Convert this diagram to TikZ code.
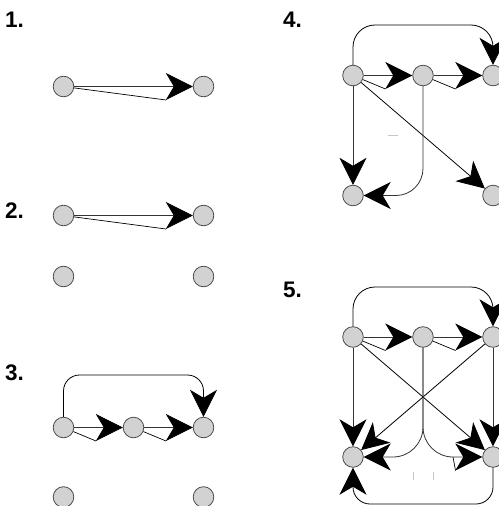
\documentclass[tikz,border=0pt]{standalone}
\usepackage{fontspec}
\setmainfont{Liberation Sans}
\usetikzlibrary{arrows.meta,calc}

\tikzset{
  vertex/.style={circle, minimum size=20.6pt, inner sep=0pt, fill=gray!35,
                 draw=black!70, line width=0.8pt},
  arr/.style={-{Stealth[length=27pt, width=27pt, inset=8pt, color=black]},
              draw=black!80, line width=0.8pt},
  tail/.style={draw=black, line width=0.7pt},
  faint/.style={draw=gray!45, line width=0.8pt},
  num/.style={font=\bfseries\fontsize{22.5}{22.5}\selectfont, anchor=base west,
              inner sep=0pt}
}

% thin line from #1 to the right-hand barb of the arrow tip that ends on #2
\newcommand\barbline[2]{%
  \path ($(#2)!37.5pt!(#1)$) coordinate (bk-#1-#2);
  \draw[tail] (#1) -- ($(bk-#1-#2)!13.5pt!90:(#1)$);}

\begin{document}
\begin{tikzpicture}[x=1pt, y=-1pt]
\useasboundingbox (0,0) rectangle (498,506);

% ---- 1 ----
\node[num] (n1) at (5,27.5) {1.};
\node[vertex] (a1) at (63.5,86.5) {};
\node[vertex] (b1) at (203.5,86.5) {};
\draw[arr] (a1) -- (b1);
\barbline{a1}{b1}

% ---- 2 ----
\node[num] (n2) at (5,218.5) {2.};
\node[vertex] (a2) at (63.5,215.5) {};
\node[vertex] (b2) at (203.5,215.5) {};
\node[vertex] (c2) at (63.5,276.5) {};
\node[vertex] (d2) at (203.5,276.5) {};
\draw[arr] (a2) -- (b2);
\barbline{a2}{b2}

% ---- 3 ----
\node[num] (n3) at (5,380.5) {3.};
\node[vertex] (a3) at (63.5,427.5) {};
\node[vertex] (b3) at (133.5,427.5) {};
\node[vertex] (c3) at (203.5,427.5) {};
\node[vertex] (d3) at (63.5,497) {};
\node[vertex] (e3) at (203.5,497) {};
\coordinate (t3) at (133.5,375);
\draw[arr] (a3) -- (b3);
\barbline{a3}{b3}
\draw[arr] (b3) -- (c3);
\barbline{b3}{c3}
\draw[arr, draw=black, rounded corners=16pt] (a3) |- (t3) -| (c3);

% ---- 4 ----
\node[num] (n4) at (283,27.5) {4.};
\node[vertex] (a4) at (353,75.5) {};
\node[vertex] (b4) at (423,75.5) {};
\node[vertex] (c4) at (493,75.5) {};
\node[vertex] (d4) at (353,195.5) {};
\node[vertex] (e4) at (493,195.5) {};
\coordinate (t4) at (423,25);
\draw[arr, draw=black, rounded corners=22pt] (a4) |- (t4) -| (c4);
\draw[arr] (a4) -- (b4);
\barbline{a4}{b4}
\draw[arr] (b4) -- (c4);
\barbline{b4}{c4}
\draw[arr] (a4) -- (d4);
\draw[arr, draw=black] (a4) -- (e4);
\draw[arr, rounded corners=27pt] (b4) |- (d4);
\draw[faint] (388,135) -- (398,135);

% ---- 5 ----
\node[num] (n5) at (283,297) {5.};
\node[vertex] (a5) at (353,337) {};
\node[vertex] (b5) at (423,337) {};
\node[vertex] (c5) at (493,337) {};
\node[vertex] (d5) at (353,457) {};
\node[vertex] (e5) at (493,457) {};
\coordinate (t5) at (423,287);
\coordinate (u5) at (423,504);
\coordinate (k5) at (453,457);
\draw[arr, draw=black, rounded corners=22pt] (a5) |- (t5) -| (c5);
\draw[arr] (a5) -- (b5);
\barbline{a5}{b5}
\draw[arr] (b5) -- (c5);
\barbline{b5}{c5}
\draw[arr] (a5) -- (d5);
\draw[arr] (c5) -- (e5);
\draw[arr, draw=black] (a5) -- (e5);
\draw[arr, draw=black] (c5) -- (d5);
\draw[arr, rounded corners=30pt] (b5) |- (d5);
\draw[arr, rounded corners=30pt] (b5) |- (e5);
\barbline{k5}{e5}
\draw[arr, draw=black, rounded corners=17pt] (e5) |- (u5) -| (d5);
\draw[faint] (413,472) -- (413,480);
\draw[faint] (433,472) -- (433,480);
\end{tikzpicture}
\end{document}
